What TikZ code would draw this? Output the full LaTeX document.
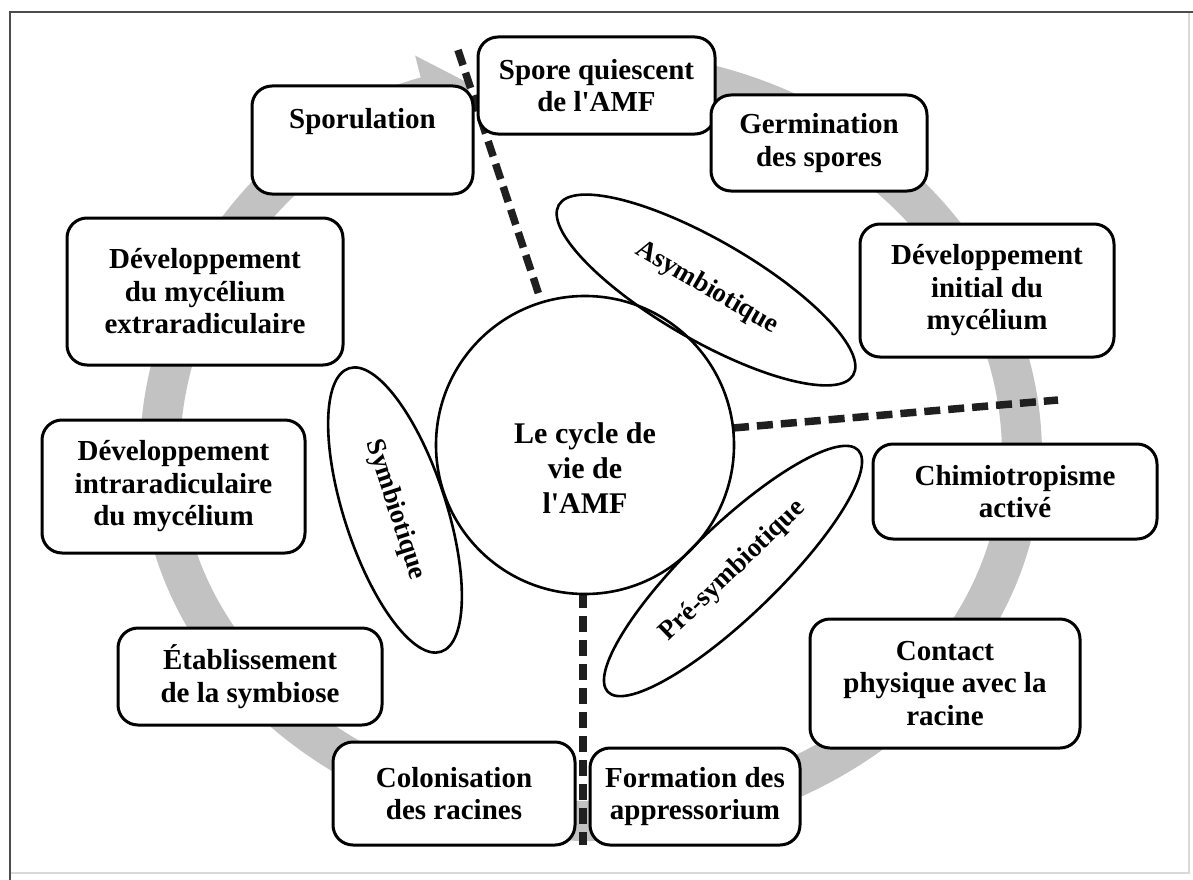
\documentclass[tikz,border=0pt]{standalone}
\usepackage{fontspec}
\setmainfont{Liberation Serif}[Ligatures=TeXOff]
\usetikzlibrary{arrows.meta,shapes.geometric}
\begin{document}
\begin{tikzpicture}[x=1pt,y=-1pt,
  box/.style={draw=black, line width=3pt, rounded corners=20pt, fill=white,
    align=center, inner sep=0pt, font=\bfseries\fontsize{29}{32.5}\selectfont},
  oval/.style={draw=black, line width=2.6pt, ellipse, inner sep=0pt,
    font=\bfseries\fontsize{27}{30}\selectfont},
  sep/.style={line width=7.5pt, dash pattern=on 16pt off 8pt, black!88},
  band/.style={line width=40pt, black!24}]
\useasboundingbox (0,0) rectangle (1193,880);
\fill[white] (0,0) rectangle (1193,880);
% frame
\draw[black!15, line width=1.2pt] (10,12) rectangle (1189,873);
\draw[black!70, line width=2pt] (10,880) -- (10,12) -- (1193,12);
% grey circular arrow
\draw[band, -{Triangle[length=48pt,width=82pt]}]
  ([shift={(280:431 and 385)}]591,455)
  arc[start angle=280, end angle=360, x radius=431, y radius=385]
  arc[start angle=0, end angle=180, x radius=431, y radius=366]
  arc[start angle=180, end angle=254, x radius=431, y radius=385];
% separators
\coordinate (d1a) at (458,50);
\coordinate (d1b) at (540,298);
\coordinate (d2a) at (733,428);
\coordinate (d2b) at (1058,400);
\coordinate (d3a) at (583,592);
\coordinate (d3b) at (583,845);
\draw[sep] (d1a) -- (d1b);
\draw[sep] (d2a) -- (d2b);
\draw[sep] (d3a) -- (d3b);
% boxes
\node[box, minimum width=237pt, minimum height=97pt] (spore) at (596.5,85.5) {Spore quiescent\\de l'AMF};
\node[box, minimum width=216pt, minimum height=96pt] (germ) at (819,143) {Germination\\des spores};
\node[box, minimum width=254pt, minimum height=133pt] (devinit) at (987,290.5) {Développement\\initial du\\mycélium};
\node[box, minimum width=284pt, minimum height=95pt] (chimio) at (1015,491.5) {Chimiotropisme\\activé};
\node[box, minimum width=270pt, minimum height=129pt] (contact) at (945,683.5) {Contact\\physique avec la\\racine};
\node[box, minimum width=210pt, minimum height=97pt] (form) at (695,796.5) {Formation des\\appressorium};
\node[box, minimum width=242pt, minimum height=103pt] (colon) at (454,793.5) {Colonisation\\des racines};
\node[box, minimum width=264pt, minimum height=97pt] (etab) at (250,676.5) {Établissement\\de la symbiose};
\node[box, minimum width=263pt, minimum height=133pt] (intra) at (173.5,486.5) {Développement\\intraradiculaire\\du mycélium};
\node[box, minimum width=276pt, minimum height=147pt] (extra) at (205,291.5) {Développement\\du mycélium\\extraradiculaire};
\node[box, minimum width=221pt, minimum height=108pt] (spor) at (362.5,140) {Sporulation\\\strut};
% centre
\node[circle, draw=black, line width=2.6pt, fill=white, minimum size=298pt, inner sep=0pt] (circ) at (585,445) {};
\node[align=center, inner sep=0pt, font=\bfseries\fontsize{30}{35}\selectfont] (title) at (585,468) {Le cycle de\\vie de\\l'AMF};
% phases
\node[oval, minimum width=340pt, minimum height=100pt, rotate=-30] (asym) at (706,290) {\raisebox{10pt}{Asymbiotique}};
\node[oval, minimum width=298pt, minimum height=102pt, rotate=-72] (sym) at (395,510) {Symbiotique};
\node[oval, minimum width=348pt, minimum height=90pt, rotate=44] (presym) at (733,571) {Pré-symbiotique};
\end{tikzpicture}
\end{document}
